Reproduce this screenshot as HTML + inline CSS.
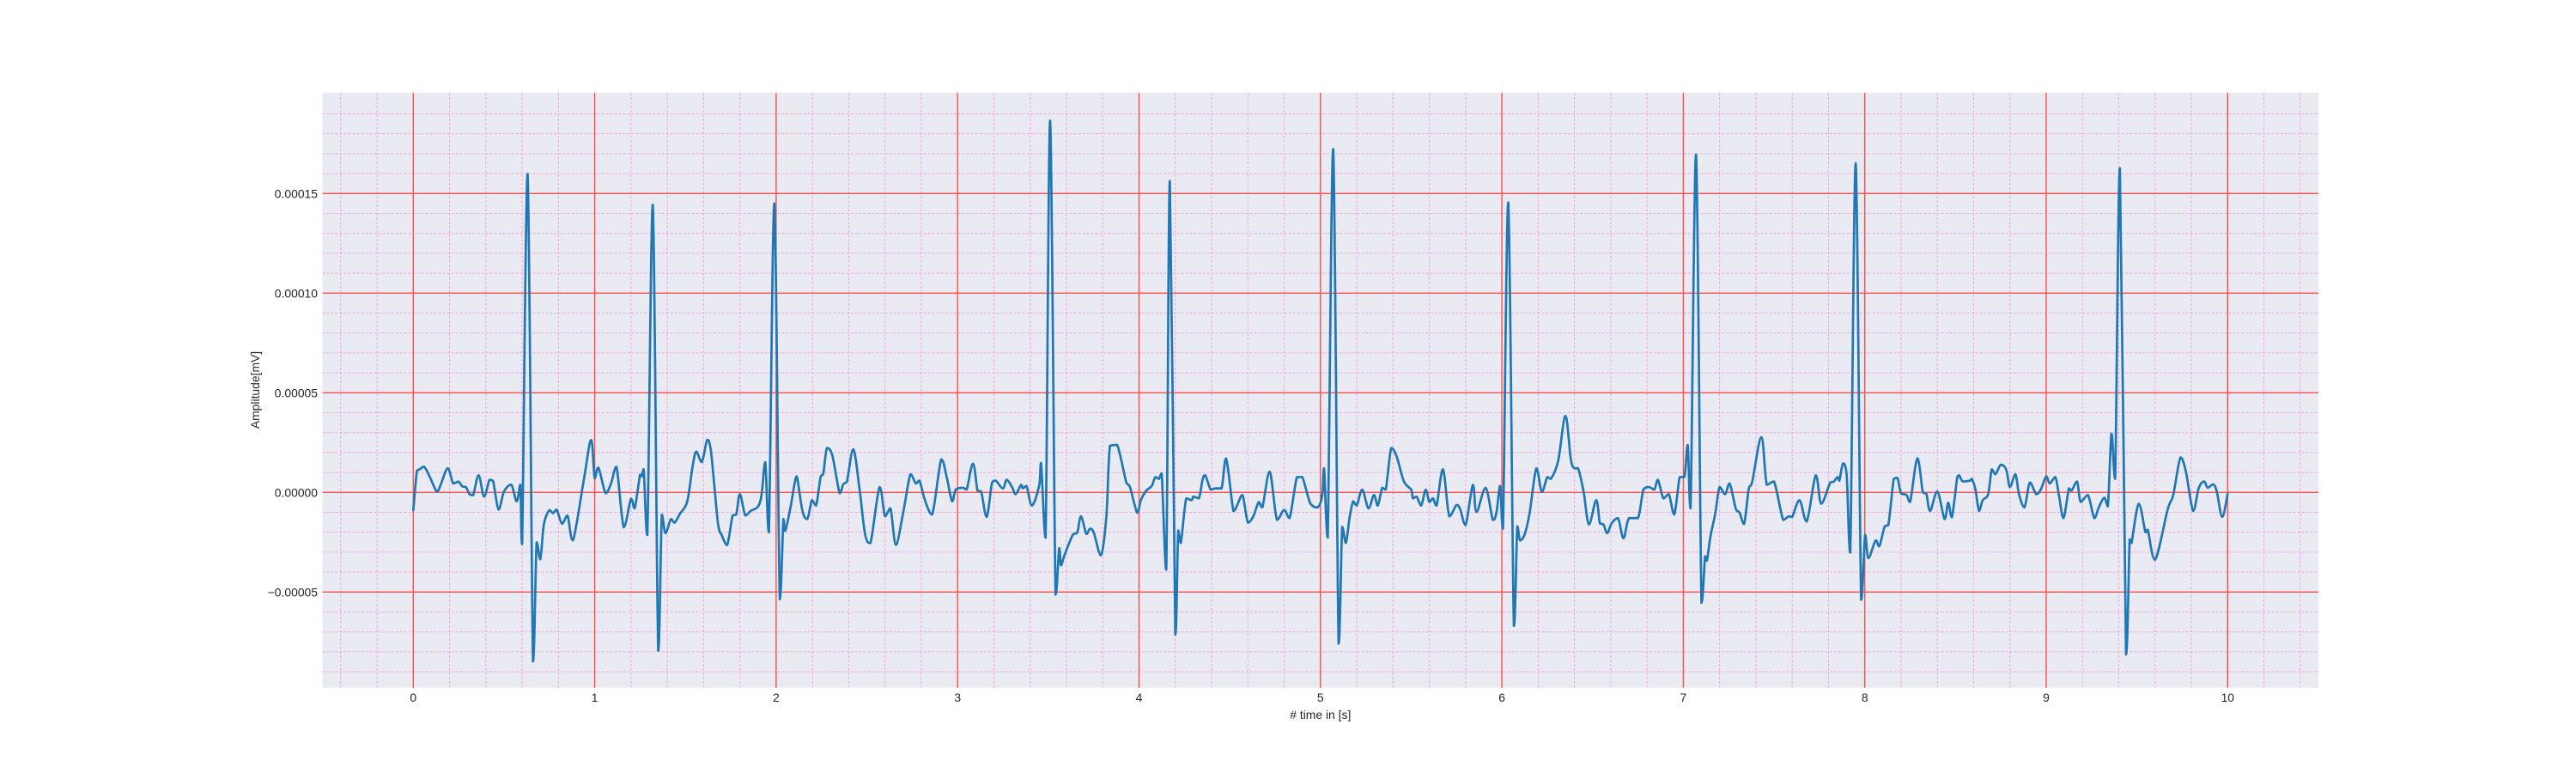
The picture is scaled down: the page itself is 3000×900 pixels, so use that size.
<!DOCTYPE html>
<html>
<head>
<meta charset="utf-8">
<style>
html,body{margin:0;padding:0;background:#fff;}
svg{display:block;}
text{font-family:"Liberation Sans",Arial,sans-serif;fill:#262626;}
</style>
</head>
<body>
<svg id="chart" width="3000" height="900" xmlns="http://www.w3.org/2000/svg">
  <rect x="0" y="0" width="3000" height="900" fill="#ffffff"/>
  <rect x="375.6" y="108" width="2324.4" height="692.7" fill="#eaeaf2"/>
  <g id="minor-grid"></g>
  <g id="major-grid"></g>
  <g id="series"></g>
  <g id="xticks"></g>
  <g id="yticks"></g>
  <text x="1537.8" y="837" font-size="13.9" text-anchor="middle"># time in [s]</text>
  <text x="0" y="0" font-size="13.9" text-anchor="middle" transform="translate(302,454) rotate(-90)">Amplitude[mV]</text>
</svg>
<script>
// ---- data (values in units of 1e-5 mV) ----
const xTickValues = [0,1,2,3,4,5,6,7,8,9,10];
const yTickValues = [-5,0,5,10,15];
const yTickLabels = ["\u22120.00005","0.00000","0.00005","0.00010","0.00015"];
const times = [0,0.02,0.035,0.06,0.09,0.13,0.15,0.19,0.22,0.25,0.27,0.29,0.31,0.33,0.36,0.39,0.42,0.44,0.47,0.5,0.54,0.57,0.59,0.6,0.63,0.66,0.68,0.7,0.72,0.75,0.77,0.79,0.82,0.85,0.88,0.94,0.98,1.0,1.02,1.06,1.09,1.12,1.16,1.2,1.22,1.25,1.26,1.27,1.29,1.32,1.35,1.37,1.39,1.42,1.44,1.47,1.51,1.54,1.56,1.59,1.62,1.64,1.68,1.7,1.73,1.76,1.78,1.8,1.83,1.86,1.9,1.92,1.94,1.96,1.99,2.02,2.04,2.05,2.08,2.1,2.114,2.145,2.172,2.197,2.22,2.245,2.26,2.28,2.31,2.35,2.37,2.39,2.425,2.46,2.49,2.52,2.57,2.6,2.63,2.66,2.7,2.74,2.77,2.79,2.82,2.86,2.91,2.94,2.97,2.99,3.03,3.05,3.085,3.11,3.13,3.16,3.19,3.21,3.25,3.27,3.3,3.32,3.35,3.36,3.38,3.41,3.45,3.46,3.485,3.51,3.54,3.56,3.57,3.59,3.635,3.66,3.68,3.71,3.73,3.75,3.79,3.82,3.84,3.88,3.93,3.95,3.99,4.01,4.04,4.07,4.09,4.11,4.125,4.15,4.17,4.2,4.216,4.23,4.26,4.29,4.3,4.33,4.35,4.365,4.395,4.42,4.455,4.48,4.52,4.54,4.57,4.6,4.63,4.66,4.68,4.72,4.76,4.8,4.83,4.87,4.9,4.945,4.985,5.01,5.02,5.04,5.07,5.1,5.12,5.14,5.16,5.18,5.2,5.23,5.265,5.295,5.316,5.34,5.36,5.39,5.42,5.46,5.5,5.51,5.53,5.555,5.58,5.6,5.62,5.64,5.675,5.71,5.75,5.77,5.8,5.84,5.86,5.91,5.95,5.97,5.99,6.006,6.035,6.066,6.085,6.1,6.126,6.153,6.19,6.22,6.25,6.27,6.31,6.35,6.38,6.40,6.42,6.45,6.48,6.52,6.54,6.56,6.58,6.605,6.64,6.67,6.7,6.75,6.78,6.81,6.84,6.86,6.89,6.92,6.95,6.98,7.006,7.024,7.04,7.07,7.1,7.12,7.13,7.15,7.175,7.2,7.23,7.255,7.29,7.31,7.335,7.36,7.38,7.43,7.46,7.5,7.55,7.58,7.6,7.64,7.68,7.73,7.76,7.81,7.83,7.85,7.86,7.88,7.9,7.92,7.95,7.98,8.002,8.02,8.06,8.08,8.11,8.13,8.16,8.18,8.2,8.23,8.25,8.29,8.32,8.34,8.36,8.4,8.44,8.46,8.48,8.51,8.52,8.54,8.58,8.59,8.61,8.63,8.65,8.68,8.7,8.72,8.75,8.78,8.8,8.83,8.85,8.88,8.91,8.945,8.97,9.0,9.02,9.05,9.07,9.095,9.125,9.14,9.17,9.19,9.23,9.265,9.29,9.32,9.34,9.36,9.38,9.406,9.44,9.46,9.47,9.51,9.547,9.56,9.6,9.67,9.7,9.74,9.77,9.81,9.84,9.87,9.89,9.92,9.94,9.97,10.0];
const amplitudes = [-0.9,1.07,1.16,1.29,0.8,0.04,0.36,1.21,0.45,0.54,0.3,0.27,-0.09,-0.14,0.86,-0.21,0.63,0.57,-0.86,0.04,0.39,-0.45,0.39,-2.59,15.98,-8.48,-2.5,-3.36,-1.6,-0.89,-1.04,-0.86,-1.57,-1.16,-2.41,0.63,2.63,0.71,1.25,-0.04,0.45,1.29,-1.75,-0.32,-0.8,0.89,0.8,1.16,-2.14,14.43,-7.95,-1.11,-2.05,-1.34,-1.52,-1.07,-0.45,1.34,2.05,1.52,2.64,2.14,-1.61,-2.14,-2.64,-1.16,-1.11,-0.09,-1.16,-0.93,-0.71,-0.09,1.52,-2.0,14.5,-5.36,-1.34,-1.93,-0.71,0.36,0.8,-0.93,-1.34,-0.39,-0.66,0.77,0.95,2.23,1.84,-0.04,0.41,0.54,2.16,0.14,-2.09,-2.54,0.27,-1.2,-0.8,-2.63,-1.02,0.91,0.45,0.59,-0.39,-1.11,1.66,0.77,-0.45,0.14,0.23,0.14,1.45,0.09,0.05,-1.23,0.5,0.59,0.2,0.63,0.27,-0.09,0.38,0.2,0.32,-0.66,0.36,1.48,-2.27,18.66,-5.13,-2.8,-3.66,-3.13,-2.13,-2.0,-1.2,-2.09,-1.82,-2.0,-3.16,-1.2,2.34,2.38,0.5,0.27,-1.02,-0.39,0.09,0.32,0.77,0.68,0.95,-3.88,15.63,-7.14,-1.91,-2.54,-0.3,-0.39,-0.21,-0.3,0.63,0.86,0.14,0.2,0.2,1.7,-0.93,-0.66,-0.13,-1.52,-1.2,-0.48,-0.75,1.04,-1.38,-0.88,-1.29,0.77,0.77,-0.57,-0.75,-0.13,1.21,-2.27,17.23,-7.59,-1.73,-2.54,-1.29,-0.45,-0.66,0.14,-0.8,-0.13,-0.66,0.23,0.14,2.23,1.8,0.55,0.14,-0.3,-0.21,-0.66,0.14,-0.48,-0.3,-0.66,1.16,-1.2,-0.63,-0.84,-1.64,0.38,-0.98,0.23,-1.38,-1.02,0.32,-1.82,14.55,-6.7,-1.7,-2.41,-2.09,-1.02,1.21,0.02,0.77,0.68,1.57,3.84,1.66,1.21,1.21,0.05,-1.61,-0.39,-1.55,-1.61,-2.05,-1.55,-1.29,-2.3,-1.29,-1.29,0.14,0.27,0.14,0.63,-0.3,-0.09,-1.11,0.77,0.77,2.38,-0.8,16.96,-5.54,-3.2,-3.43,-2.18,-1.11,0.27,-0.09,0.45,-0.84,-1.02,-1.59,0.14,0.55,2.77,0.38,0.55,-1.38,-1.2,-1.23,-0.39,-1.46,0.86,-0.57,0.5,0.55,0.77,0.59,1.45,0.91,-3.02,16.52,-5.39,-2.13,-3.3,-2.41,-2.71,-1.7,-1.64,0.68,0.73,-0.04,-0.13,-0.48,1.71,0.02,-0.09,-0.93,0.05,-1.34,-0.52,-1.25,0.77,0.86,0.55,0.59,0.68,0.14,-0.93,-0.39,-0.09,1.16,0.91,1.39,1.13,0.27,0.91,-0.09,-0.75,0.5,-0.09,0.14,0.8,0.45,0.77,-0.13,-1.29,0.2,0.09,0.55,-0.48,-0.13,-1.29,-0.75,-0.27,-0.7,2.95,0.68,16.27,-8.13,-2.36,-2.54,-0.57,-2.0,-1.88,-3.38,-0.84,-0.13,1.75,1.04,-0.93,0.2,0.55,0.23,0.41,0.05,-1.23,-0.09];

// ---- axes ----
const X0 = 481.3, XS = 211.3;
const Y0 = 573.3, YS = 23.2;
const plotL = 375.6, plotR = 2700, plotT = 108, plotB = 800.7;
function xScale(t){ return X0 + t*XS; }
function yScale(v){ return Y0 - v*YS; }
const NS = "http://www.w3.org/2000/svg";
function mk(tag, attrs, parent){
  const e = document.createElementNS(NS, tag);
  for (const k in attrs) e.setAttribute(k, attrs[k]);
  parent.appendChild(e);
  return e;
}

const minorG = document.getElementById('minor-grid');
for (let i = -2; i <= 52; i++) {
  if (i % 5 === 0) continue;
  const x = xScale(i*0.2);
  if (x < plotL || x > plotR) continue;
  const l = mk('line', {x1:x, x2:x, y1:plotT, y2:plotB, stroke:'#f2a6e0', 'stroke-width':1, 'stroke-dasharray':'3,2'}, minorG);
  
  
}
for (let j = -10; j <= 20; j++) {
  if (j % 5 === 0) continue;
  const y = yScale(j);
  if (y < plotT || y > plotB) continue;
  const l = mk('line', {x1:plotL, x2:plotR, y1:y, y2:y, stroke:'#f2a6e0', 'stroke-width':1, 'stroke-dasharray':'3,2'}, minorG);
  
  
}
const majorG = document.getElementById('major-grid');
const xt = document.getElementById('xticks');
const yt = document.getElementById('yticks');
xTickValues.forEach(t => {
  const x = xScale(t);
  const l = mk('line', {x1:x, x2:x, y1:plotT, y2:plotB, stroke:'#ff4d4d', 'stroke-width':1.4}, majorG);
  
  
  const tx = mk('text', {x:x, y:817, 'font-size':13.9, 'text-anchor':'middle'}, xt);
  tx.textContent = String(t);
  
  
});
yTickValues.forEach((v, i) => {
  const y = yScale(v);
  const l = mk('line', {x1:plotL, x2:plotR, y1:y, y2:y, stroke:'#ff4d4d', 'stroke-width':1.4}, majorG);
  
  
  const tx = mk('text', {x:370, y:y+5, 'font-size':13.9, 'text-anchor':'end'}, yt);
  tx.textContent = yTickLabels[i];
  
  
});

// series: smoothed (clamped Catmull-Rom)
const seriesG = document.getElementById('series');
const P = times.map((t, i) => [xScale(t), yScale(amplitudes[i])]);
function clamp(v, a, b){ const lo = Math.min(a,b), hi = Math.max(a,b); return Math.max(lo, Math.min(hi, v)); }
let d = 'M' + P[0][0].toFixed(2) + ',' + P[0][1].toFixed(2);
for (let i = 0; i < P.length - 1; i++) {
  const p0 = P[Math.max(0, i-1)], p1 = P[i], p2 = P[i+1], p3 = P[Math.min(P.length-1, i+2)];
  const c1x = p1[0] + (p2[0]-p0[0])/6, c1y = clamp(p1[1] + (p2[1]-p0[1])/6, p1[1], p2[1]);
  const c2x = p2[0] - (p3[0]-p1[0])/6, c2y = clamp(p2[1] - (p3[1]-p1[1])/6, p1[1], p2[1]);
  d += 'C' + c1x.toFixed(2) + ',' + c1y.toFixed(2) + ' ' + c2x.toFixed(2) + ',' + c2y.toFixed(2) + ' ' + p2[0].toFixed(2) + ',' + p2[1].toFixed(2);
}
const path = mk('path', {d:d, fill:'none', stroke:'#1f77b4', 'stroke-width':2.7, 'stroke-linejoin':'round', 'stroke-linecap':'round'}, seriesG);


</script>
</body>
</html>
